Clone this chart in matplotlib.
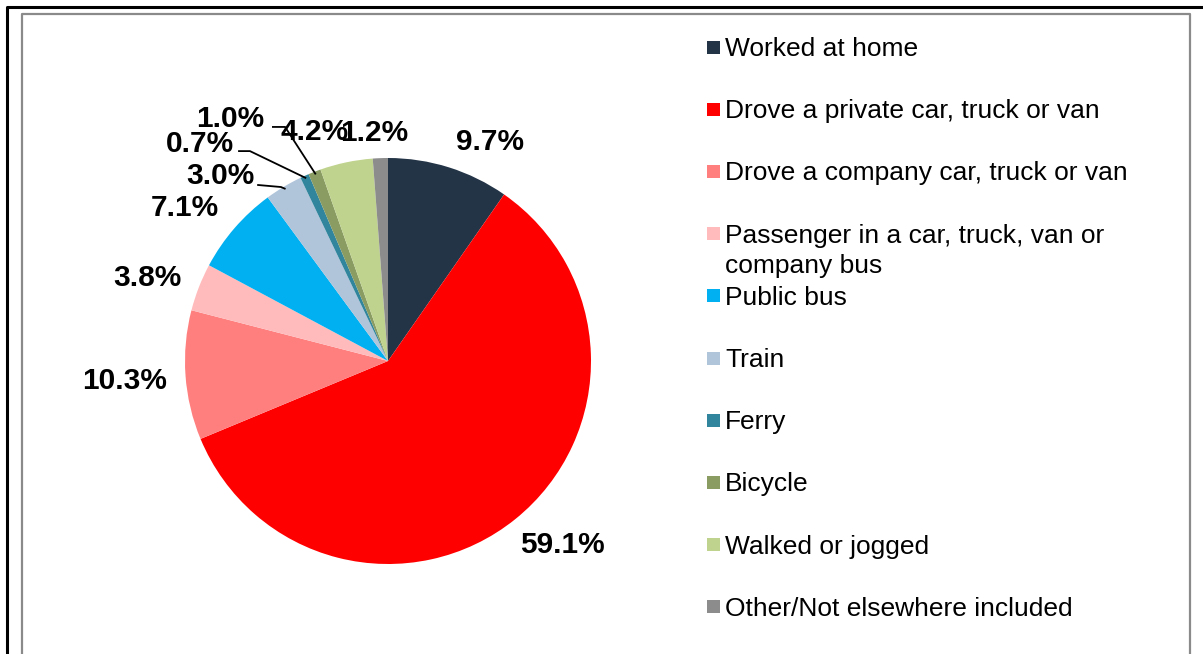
import matplotlib
matplotlib.use("Agg")
import matplotlib.pyplot as plt
import numpy as np
from matplotlib.patches import Rectangle
from matplotlib.lines import Line2D

plt.rcParams['font.family'] = ['Liberation Sans', 'DejaVu Sans']

categories = [
    "Worked at home",
    "Drove a private car, truck or van",
    "Drove a company car, truck or van",
    "Passenger in a car, truck, van or\ncompany bus",
    "Public bus",
    "Train",
    "Ferry",
    "Bicycle",
    "Walked or jogged",
    "Other/Not elsewhere included",
]
values = [9.7, 59.1, 10.3, 3.8, 7.1, 3.0, 0.7, 1.0, 4.2, 1.2]
colors = ["#243447", "#FF0000", "#FF7F7F", "#FFBBBB", "#00B0F0",
          "#B0C4DA", "#31859C", "#8A9C62", "#C0D38E", "#8C8C8C"]

# label positions (in units of pie radius, relative to centre)
label_pos = [(0.502, 1.079), (0.857, -0.906), (-1.300, -0.099), (-1.187, 0.409),
             (-1.0, 0.754), (-0.828, 0.911), (-0.926, 1.070), (-0.775, 1.194),
             (-0.360, 1.128), (-0.069, 1.123)]
# leader lines: index -> (start, elbow)
leaders = {5: [(-0.640, 0.867), (-0.527, 0.857)],
           6: [(-0.734, 1.034), (-0.680, 1.034)],
           7: [(-0.567, 1.153), (-0.507, 1.153)]}

W, H = 1203, 654
fig = plt.figure(figsize=(W / 100, H / 100), dpi=100)

# frame overlay
ov = fig.add_axes([0, 0, 1, 1])
ov.set_xlim(0, W)
ov.set_ylim(H, 0)
ov.axis('off')
ov.add_line(Line2D([7, 7, W + 5], [H + 5, 7, 7], color='black', lw=2.2))
ov.add_line(Line2D([22, 22, 1190, 1190], [H + 5, 14, 14, H + 5], color='#8a8a8a', lw=1.6))

# pie
cx, cy, r = 388, 361, 203
ax = fig.add_axes([(cx - r) / W, (H - cy - r) / H, 2 * r / W, 2 * r / H])
ax.pie(values, colors=colors, startangle=90, counterclock=False, radius=1,
       wedgeprops=dict(linewidth=0))
ax.set_xlim(-1, 1)
ax.set_ylim(-1, 1)
ax.set_aspect('auto')
ax.axis('off')

total = sum(values)
cum = np.cumsum([0] + values)
for i, v in enumerate(values):
    x, y = label_pos[i]
    ax.text(x, y, f"{v:.1f}%", ha='center', va='center', fontsize=21.5,
            fontweight='bold', color='black', clip_on=False, zorder=5)
    if i in leaders:
        mid = (cum[i] + cum[i + 1]) / 2 / total * 2 * np.pi
        ex, ey = np.sin(mid) * 0.99, np.cos(mid) * 0.99
        pts = leaders[i] + [(ex, ey)]
        ax.add_line(Line2D([p[0] for p in pts], [p[1] for p in pts],
                           color='black', lw=1.3, clip_on=False, zorder=4))

# legend (manual)
y0, dy = 47, 62.2
for i, lab in enumerate(categories):
    yc = y0 + i * dy
    ov.add_patch(Rectangle((707, yc - 6.5), 13, 13, color=colors[i], lw=0))
    for j, line in enumerate(lab.split("\n")):
        ov.text(725, yc + 2 + j * 30, line, ha='left', va='center', fontsize=19,
                color='black')

fig.savefig("out.png", dpi=100)
